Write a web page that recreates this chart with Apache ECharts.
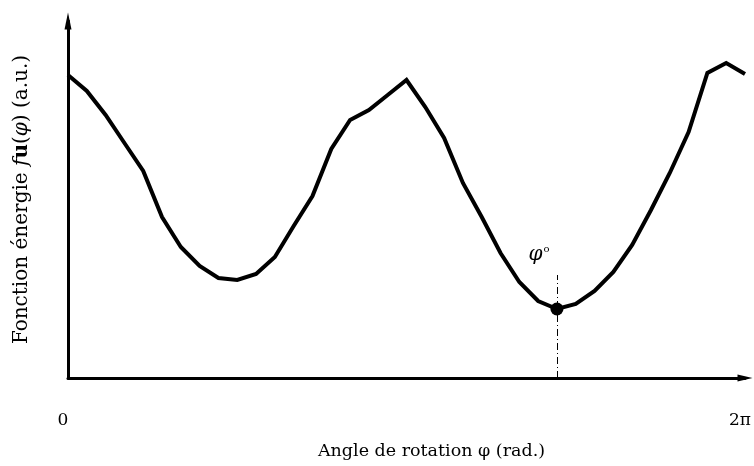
<!DOCTYPE html>
<html style="height: 100%">
<head>
    <meta charset="utf-8">
    <script src="https://cdn.jsdelivr.net/npm/echarts@6/dist/echarts.min.js"></script>
</head>
<body style="height: 100%; margin: 0; background: #fff">
<div id="container" style="width: 754px; height: 466px"></div>
<script type="text/javascript">
    // angle steps (0 .. 36 => 0 .. 2pi)
    var steps = [];
    for (var k = 0; k <= 36; k++) steps.push(k);
    var energy = [303, 287, 263, 235, 207, 161, 131, 112, 100, 98, 104, 121, 152, 182, 229, 258, 268, 283, 298,
        271, 240, 195, 161, 125, 96, 77, 69, 74, 87, 106, 133, 168, 205, 246, 305, 315, 304];
    var minStep = 26;
    var tickValues = [0, 36];
    var tickLabels = ['0', '2\u03c0'];

    var curve = steps.map(function (s, i) { return [s, energy[i]]; });

    var dom = document.getElementById("container");
    var myChart = echarts.init(dom);
    var serif = '"DejaVu Serif", serif';

    var option = {
        animation: false,
        grid: { left: 68, right: 9, top: 21, bottom: 88, outerBoundsMode: 'none' },
        xAxis: {
            type: 'value',
            min: 0,
            max: 36,
            splitLine: { show: false },
            axisTick: { show: false },
            axisLine: {
                lineStyle: { color: '#000', width: 3 },
                symbol: ['none', 'triangle'],
                symbolSize: [7, 15]
            },
            axisLabel: {
                customValues: tickValues,
                formatter: function (v) { return tickLabels[tickValues.indexOf(v)]; },
                margin: 34,
                padding: [0, 10, 0, 0],
                color: '#000',
                fontFamily: serif,
                fontSize: 17
            },
            name: 'Angle de rotation \u03c6 (rad.)',
            nameLocation: 'middle',
            nameGap: 64,
            nameTextStyle: { color: '#000', fontFamily: serif, fontSize: 17.5, padding: [0, 0, 0, 50] }
        },
        yAxis: {
            type: 'value',
            min: 0,
            max: 357,
            splitLine: { show: false },
            axisTick: { show: false },
            axisLabel: { show: false },
            axisLine: {
                lineStyle: { color: '#000', width: 3 },
                symbol: ['none', 'triangle'],
                symbolSize: [7, 17]
            },
            name: '{n|Fonction \u00e9nergie }{f|f}{u|u}{n|(}{f|\u03c6}{n|) (a.u.)}',
            nameLocation: 'middle',
            nameGap: 36,
            nameTextStyle: {
                color: '#000',
                fontFamily: serif,
                fontSize: 20,
                rich: {
                    n: { fontFamily: serif, fontSize: 20, color: '#000' },
                    f: { fontFamily: serif, fontSize: 20, fontStyle: 'italic', color: '#000' },
                    u: { fontFamily: serif, fontSize: 20, fontWeight: 'bold', color: '#000' }
                }
            }
        },
        series: [
            {
                type: 'line',
                data: curve,
                showSymbol: false,
                lineStyle: { color: '#000', width: 4, join: 'miter' },
                markLine: {
                    silent: true,
                    symbol: ['none', 'none'],
                    label: { show: false },
                    lineStyle: { color: '#000', width: 1, type: [7, 3, 1, 3] },
                    data: [[{ coord: [minStep, 0] }, { coord: [minStep, 103] }]]
                }
            },
            {
                type: 'scatter',
                data: [[minStep, energy[minStep]]],
                symbolSize: 13,
                itemStyle: { color: '#000', opacity: 1 },
                label: {
                    show: true,
                    position: 'inside',
                    offset: [-18, -54],
                    formatter: '{p|\u03c6}{o|o}',
                    rich: {
                        p: { fontFamily: serif, fontStyle: 'italic', fontSize: 20, color: '#000' },
                        o: { fontFamily: serif, fontSize: 10, color: '#000', verticalAlign: 'top', padding: [0, 0, 12, 1] }
                    }
                }
            }
        ]
    };

    if (option && typeof option === "object") {
        myChart.setOption(option, true);
    }
</script>
</body>
</html>
